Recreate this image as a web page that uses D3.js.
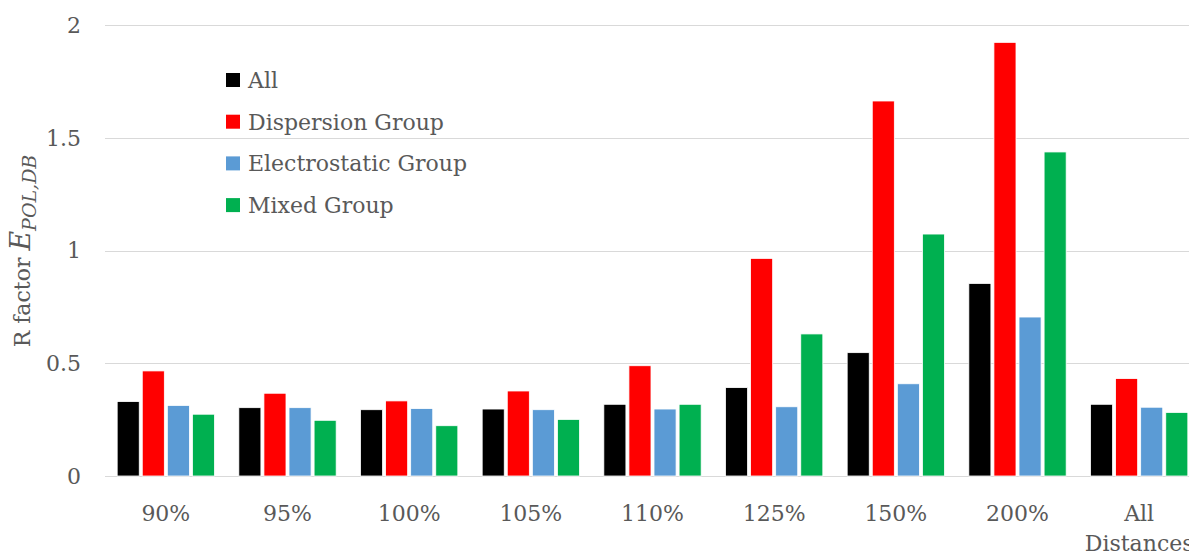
<!DOCTYPE html>
<html>
<head>
<meta charset="utf-8">
<script src="https://cdnjs.cloudflare.com/ajax/libs/d3/7.8.5/d3.min.js"></script>
<style>
  body { margin: 0; background: #fff; }
  text { font-family: "DejaVu Serif", serif; fill: #595959; }
  .grid line { stroke: #d9d9d9; stroke-width: 1px; }
  .bar { stroke: #fff; stroke-width: 0.8px; }
</style>
</head>
<body>
<script>
// categories along x
var categories = ["90%", "95%", "100%", "105%", "110%", "125%", "150%", "200%", "All Distances"];
var seriesNames = ["All", "Dispersion Group", "Electrostatic Group", "Mixed Group"];
var seriesColors = ["#000000", "#ff0000", "#5b9bd5", "#00b050"];

// values
var allValues  = [0.330, 0.303, 0.294, 0.297, 0.318, 0.392, 0.547, 0.854, 0.318];
var dispValues = [0.466, 0.367, 0.333, 0.377, 0.489, 0.965, 1.663, 1.923, 0.432];
var elecValues = [0.313, 0.303, 0.299, 0.294, 0.297, 0.307, 0.409, 0.705, 0.305];
var mixValues  = [0.274, 0.247, 0.223, 0.251, 0.318, 0.630, 1.073, 1.437, 0.282];
var yTicks = [0, 0.5, 1, 1.5, 2];

var series = [allValues, dispValues, elecValues, mixValues];

var width = 1189, height = 551;
var plotLeft = 105, plotTop = 25, plotW = 1095, plotH = 451;

var svg = d3.select("body").append("svg")
    .attr("width", width)
    .attr("height", height);

var x0 = d3.scaleBand()
    .domain(categories)
    .range([plotLeft, plotLeft + plotW])
    .paddingInner(0.2)
    .paddingOuter(0.1);

var x1 = d3.scaleBand()
    .domain(d3.range(seriesNames.length))
    .range([0, x0.bandwidth()])
    .paddingInner(0.12)
    .paddingOuter(0);

var y = d3.scaleLinear()
    .domain([0, 2])
    .range([plotTop + plotH, plotTop]);

// gridlines
svg.append("g").attr("class", "grid")
  .selectAll("line")
  .data(yTicks)
  .enter().append("line")
    .attr("x1", plotLeft)
    .attr("x2", plotLeft + plotW)
    .attr("y1", function(d) { return Math.round(y(d)) + 0.5; })
    .attr("y2", function(d) { return Math.round(y(d)) + 0.5; });

// y tick labels
svg.append("g")
  .selectAll("text")
  .data(yTicks)
  .enter().append("text")
    .attr("x", 81)
    .attr("y", function(d) { return y(d); })
    .attr("dy", "0.36em")
    .attr("text-anchor", "end")
    .style("font-size", "22px")
    .text(function(d) { return d; });

// bars
var groups = svg.append("g")
  .selectAll("g")
  .data(categories)
  .enter().append("g")
    .attr("transform", function(d) { return "translate(" + x0(d) + ",0)"; });

groups.selectAll("rect")
  .data(function(d, i) { return series.map(function(s, k) { return {k: k, v: s[i]}; }); })
  .enter().append("rect")
    .attr("class", "bar")
    .attr("x", function(d) { return x1(d.k); })
    .attr("width", x1.bandwidth())
    .attr("y", function(d) { return y(d.v); })
    .attr("height", function(d) { return y(0) - y(d.v); })
    .attr("fill", function(d) { return seriesColors[d.k]; });

// x labels
var xl = svg.append("g")
  .selectAll("text")
  .data(categories)
  .enter().append("text")
    .attr("x", function(d) { return x0(d) + x0.bandwidth() / 2; })
    .attr("y", 521)
    .attr("text-anchor", "middle")
    .style("font-size", "22px");

xl.each(function(d) {
  var words = d.split(" ");
  var t = d3.select(this);
  words.forEach(function(w, i) {
    t.append("tspan")
      .attr("x", x0(d) + x0.bandwidth() / 2)
      .attr("dy", i === 0 ? 0 : 30)
      .text(w);
  });
});

// y axis title
var title = svg.append("text")
    .attr("transform", "translate(30," + 251 + ") rotate(-90)")
    .attr("text-anchor", "middle")
    .style("font-size", "22px");
title.append("tspan").text("R factor ");
title.append("tspan").style("font-style", "italic").style("font-size", "27px").text("E");
title.append("tspan").style("font-style", "italic").style("font-size", "19px")
    .attr("dy", 6).text("POL,DB");

// legend
var legend = svg.append("g")
  .selectAll("g")
  .data(seriesNames)
  .enter().append("g")
    .attr("transform", function(d, i) { return "translate(226," + (80 + i * 41.7) + ")"; });

legend.append("rect")
    .attr("x", 0)
    .attr("y", -7)
    .attr("width", 14)
    .attr("height", 14)
    .attr("fill", function(d, i) { return seriesColors[i]; });

legend.append("text")
    .attr("x", 22)
    .attr("y", 0)
    .attr("dy", "0.36em")
    .style("font-size", "22px")
    .text(function(d) { return d; });
</script>
</body>
</html>
